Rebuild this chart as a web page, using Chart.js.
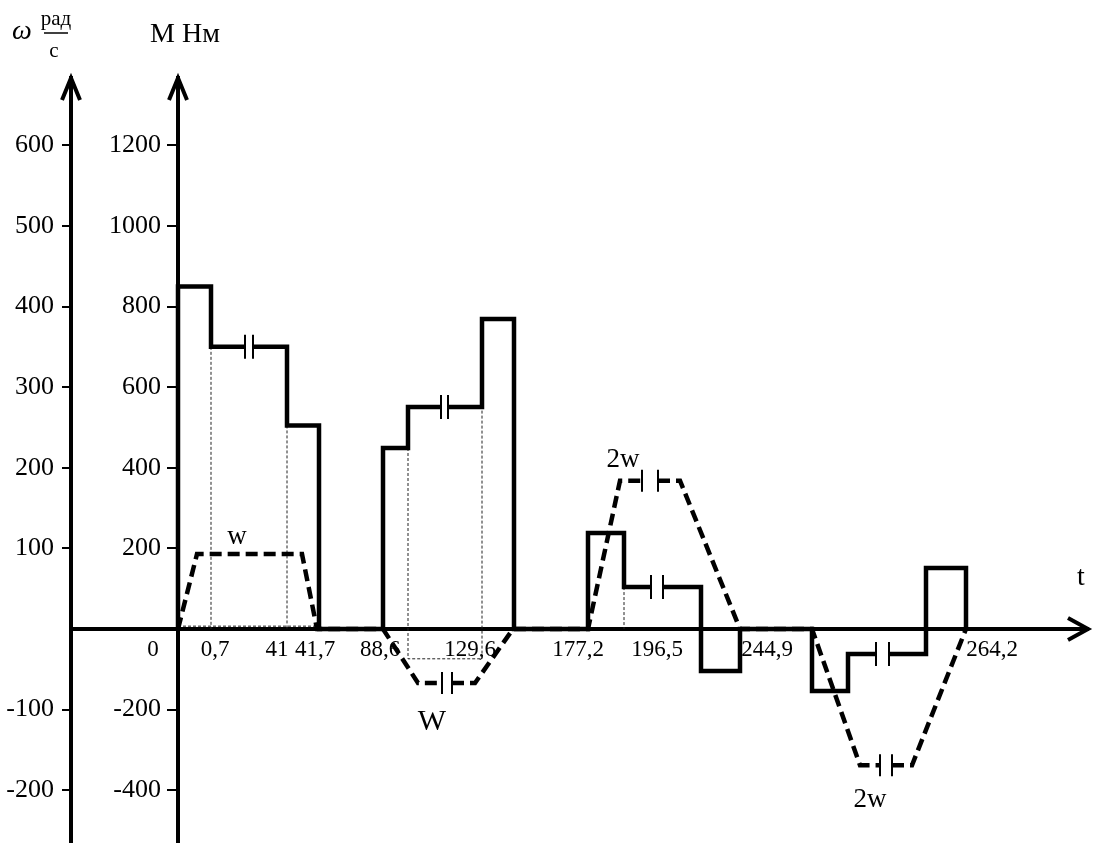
<!DOCTYPE html>
<html lang="ru">
<head>
<meta charset="UTF-8">
<title>M(t), ω(t)</title>
<script src="https://cdn.jsdelivr.net/npm/chart.js"></script>
<style>
  html, body { margin: 0; padding: 0; background: #fff; }
  #wrap { width: 1095px; height: 843px; }
</style>
</head>
<body>
<div id="wrap"><canvas id="myChart"></canvas></div>
<script>
// time axis is drawn with breaks, so x is a schematic position along t
const tPos = [-25, 37, 99, 137, 202, 292, 400, 479, 589, 814];
const tLabels = ['0', '0,7', '41', '41,7', '88,6', '129,6', '177,2', '196,5', '244,9', '264,2'];

const mTicks = [1200, 1000, 800, 600, 400, 200, -200, -400];
const wTicks = [600, 500, 400, 300, 200, 100, -100, -200];

// torque M, Нм (null = break of the time axis)
const mX = [0, 0, 33, 33, 67, 71, 75, 109, 109, 141, 141,
            205, 205, 230, 230, 263, 266, 270, 304, 304, 336, 336,
            410, 410, 446, 446, 473, 479, 485, 523, 523, 562, 562,
            634, 634, 670, 670, 698, 704, 711, 748, 748, 788, 788];
const mY = [0, 850, 850, 700, 700, null, 700, 700, 505, 505, 0,
            0, 449, 449, 551, 551, null, 551, 551, 769, 769, 0,
            0, 238, 238, 104, 104, null, 104, 104, -104, -104, 0,
            0, -154, -154, -62, -62, null, -62, -62, 151, 151, 0];

// speed ω, рад/с
const wX = [0, 19, 124, 139,
            205, 240, 264, 269, 274, 297, 335,
            410, 442, 464, 472, 480, 502, 562,
            634, 682, 702, 708, 714, 734, 788];
const wY = [0, 93, 93, 0,
            0, -67, -67, null, -67, -67, 0,
            0, 184, 184, null, 184, 184, 0,
            0, -169, -169, null, -169, -169, 0];

// break marks
const mBreakX = [67, 75, 263, 270, 473, 485, 698, 711];
const mBreakY = [700, 700, 551, 551, 104, 104, -62, -62];
const wBreakX = [264, 274, 464, 480, 702, 714];
const wBreakY = [-67, -67, 184, 184, -169, -169];

// thin dotted guide lines (M units)
const gX = [33, 33, null, 109, 109, null, 0, 139, null, 230, 230, 304, 304, null, 446, 446];
const gY = [700, 0, null, 505, 0, null, 7, 7, null, 449, -74, -74, 551, null, 104, 0];

// curve captions (ω units)
const capText = ['w', 'W', '2w', '2w'];
const capX = [59, 254, 445, 692];
const capY = [114, -115, 210, -212];

const mMin = -531, mMax = 1367;

const pts = (xs, ys) => xs.map((v, i) => ({x: v, y: ys[i]}));

Chart.defaults.font.family = '"Liberation Serif", "Times New Roman", serif';
Chart.defaults.color = '#000';

const schemePlugin = {
    id: 'scheme',
    beforeDraw(chart) {
        // labels of the axis placed at t = 0 sit left of its ticks
        const s = chart.scales.y;
        const shift = s.options.grid.tickLength + s.options.ticks.padding;
        s.getLabelItems(chart.chartArea).forEach(it => {
            if (!it.moved) {
                it.options.translation[0] -= shift;
                it.moved = true;
            }
        });
    },
    afterDraw(chart) {
        const {ctx, chartArea: a, scales} = chart;
        const x0 = scales.x.getPixelForValue(0);
        const y0 = scales.y.getPixelForValue(0);
        const wx = scales.w.right;
        ctx.save();
        ctx.strokeStyle = '#000';
        ctx.lineWidth = 4;
        ctx.lineJoin = 'miter';
        // arrow heads
        [wx, x0].forEach(px => {
            ctx.beginPath();
            ctx.moveTo(px - 9, a.top + 22);
            ctx.lineTo(px, a.top);
            ctx.lineTo(px + 9, a.top + 22);
            ctx.stroke();
        });
        ctx.beginPath();
        ctx.moveTo(a.right - 20, y0 - 11);
        ctx.lineTo(a.right, y0);
        ctx.lineTo(a.right - 20, y0 + 11);
        ctx.stroke();

        ctx.fillStyle = '#000';
        ctx.textAlign = 'center';
        ctx.textBaseline = 'alphabetic';
        ctx.font = 'italic 28px "Liberation Serif"';
        ctx.fillText('ω', 22, 39);
        ctx.font = '21px "Liberation Serif"';
        ctx.fillText('рад', 56, 25);
        ctx.fillText('с', 54, 57);
        ctx.lineWidth = 1.5;
        ctx.beginPath();
        ctx.moveTo(44, 33);
        ctx.lineTo(68, 33);
        ctx.stroke();

        ctx.textBaseline = 'middle';
        ctx.font = '28px "Liberation Serif"';
        ctx.fillText('M Нм', x0 + 7, 35);
        ctx.fillText('t', a.right - 7, y0 - 51);

        capText.forEach((s, i) => {
            ctx.font = (s === 'W' ? '30px' : '27px') + ' "Liberation Serif"';
            ctx.fillText(s, scales.x.getPixelForValue(capX[i]), scales.w.getPixelForValue(capY[i]));
        });
        ctx.restore();
    }
};

const yAxisBase = {
    grid: { drawOnChartArea: false, drawTicks: true, tickLength: 9, lineWidth: 2, color: '#000' },
    border: { display: true, width: 4, color: '#000' },
    ticks: { font: { size: 26 }, padding: 8, callback: v => String(v), autoSkip: false }
};

new Chart(document.getElementById('myChart'), {
    type: 'line',
    data: {
        datasets: [
            {
                label: 'M',
                data: pts(mX, mY),
                yAxisID: 'y',
                borderColor: '#000',
                borderWidth: 4.5,
                borderJoinStyle: 'miter',
                pointRadius: 0,
                spanGaps: false
            },
            {
                label: 'ω',
                data: pts(wX, wY),
                yAxisID: 'w',
                borderColor: '#000',
                borderWidth: 4.5,
                borderDash: [12, 6],
                borderJoinStyle: 'miter',
                pointRadius: 0,
                spanGaps: false
            },
            {
                label: 'guides',
                data: pts(gX, gY),
                yAxisID: 'y',
                borderColor: '#222',
                borderWidth: 1,
                borderDash: [3, 2],
                pointRadius: 0,
                spanGaps: false
            },
            {
                label: 'breaks M',
                data: pts(mBreakX, mBreakY),
                yAxisID: 'y',
                showLine: false,
                pointStyle: 'line',
                pointRotation: 90,
                pointRadius: 12,
                pointBorderWidth: 2,
                pointBorderColor: '#000'
            },
            {
                label: 'breaks ω',
                data: pts(wBreakX, wBreakY),
                yAxisID: 'w',
                showLine: false,
                pointStyle: 'line',
                pointRotation: 90,
                pointRadius: 11,
                pointBorderWidth: 2,
                pointBorderColor: '#000'
            }
        ]
    },
    options: {
        responsive: true,
        maintainAspectRatio: false,
        animation: false,
        events: [],
        layout: { autoPadding: false, padding: { top: 78, right: 7, bottom: 0, left: 0 } },
        plugins: { legend: { display: false }, tooltip: { enabled: false } },
        scales: {
            x: {
                type: 'linear',
                position: { y: 0 },
                min: -107,
                max: 910,
                grid: { display: false, drawTicks: false },
                border: { display: true, width: 4, color: '#000' },
                ticks: {
                    font: { size: 23 },
                    padding: 7,
                    autoSkip: false,
                    maxRotation: 0,
                    callback: (v, i) => tLabels[i]
                },
                afterBuildTicks: s => { s.ticks = tPos.map(v => ({value: v})); },
                afterFit: s => { s.paddingLeft = 0; s.paddingRight = 0; }
            },
            y: {
                ...yAxisBase,
                type: 'linear',
                position: { x: 0 },
                min: mMin,
                max: mMax,
                afterBuildTicks: s => { s.ticks = mTicks.map(v => ({value: v})); },
                afterFit: s => { s.paddingTop = 0; s.paddingBottom = 0; }
            },
            w: {
                ...yAxisBase,
                type: 'linear',
                axis: 'y',
                position: 'left',
                min: mMin / 2,
                max: mMax / 2,
                afterBuildTicks: s => { s.ticks = wTicks.map(v => ({value: v})); },
                afterFit: s => { s.width = 71; s.paddingTop = 0; s.paddingBottom = 0; }
            }
        }
    },
    plugins: [schemePlugin]
});
</script>
</body>
</html>
